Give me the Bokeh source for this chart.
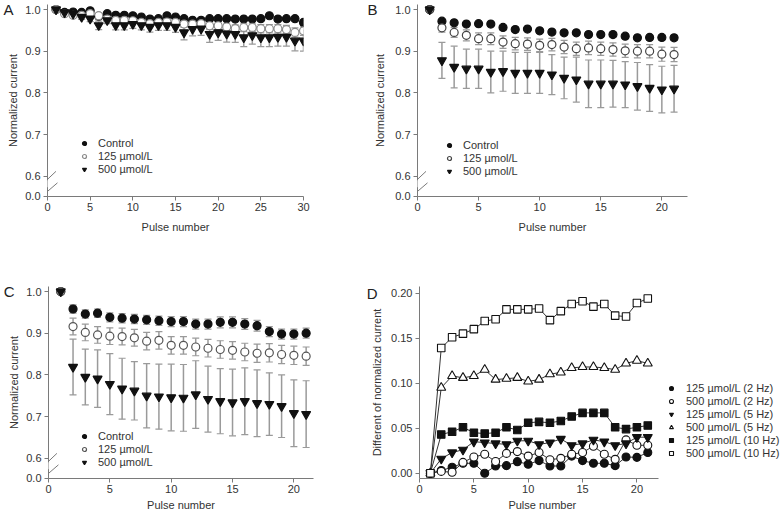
from bokeh.plotting import figure
from bokeh.layouts import column, row
from bokeh.models import (Range1d, FixedTicker, CustomJSTickFormatter, Whisker, TeeHead,
                          ColumnDataSource, Legend, LegendItem, Arrow, LinearAxis, Title)
from bokeh.embed import file_html
from bokeh.resources import INLINE

FONT = "Liberation Sans"
TXT = "#333333"
AXC = "#7a7a7a"
BAR = "#9a9a9a"

# ---------------- data ----------------
A_pulse = list(range(1, 31))
A_ctrl = [1.000, 0.993, 0.994, 0.993, 0.997, 0.984, 0.990, 0.986, 0.986, 0.985,
          0.982, 0.977, 0.978, 0.985, 0.982, 0.978, 0.974, 0.974, 0.978, 0.978,
          0.978, 0.977, 0.977, 0.977, 0.978, 0.985, 0.977, 0.978, 0.978, 0.969]
A_ctrl_sem = [0, .003, .003, .003, .003, .004, .004, .004, .004, .004,
              .004, .005, .005, .005, .005, .005, .005, .005, .005, .005,
              .005, .005, .005, .005, .005, .005, .005, .005, .005, .006]
A_125 = [1.000, 0.990, 0.986, 0.986, 0.990, 0.985, 0.977, 0.974, 0.974, 0.973,
         0.969, 0.966, 0.969, 0.970, 0.969, 0.965, 0.965, 0.966, 0.961, 0.961,
         0.958, 0.954, 0.957, 0.957, 0.954, 0.954, 0.954, 0.952, 0.945, 0.949]
A_125_sem = [0, .003, .004, .004, .004, .005, .005, .006, .006, .006,
             .006, .007, .007, .007, .007, .008, .008, .008, .009, .009,
             .009, .009, .010, .010, .010, .010, .010, .010, .011, .011]
A_500 = [1.000, 0.993, 0.990, 0.982, 0.978, 0.962, 0.974, 0.962, 0.962, 0.965,
         0.962, 0.958, 0.962, 0.962, 0.958, 0.945, 0.953, 0.954, 0.941, 0.945,
         0.942, 0.941, 0.933, 0.938, 0.933, 0.933, 0.934, 0.934, 0.925, 0.925]
A_500_sem = [0, .004, .005, .006, .007, .010, .008, .011, .011, .010,
             .011, .012, .012, .012, .013, .018, .016, .016, .020, .019,
             .020, .020, .022, .021, .022, .022, .022, .022, .024, .025]

B_pulse = list(range(1, 22))
B_ctrl = [1.000, 0.972, 0.968, 0.965, 0.966, 0.965, 0.957, 0.952, 0.953, 0.949, 0.946,
          0.944, 0.944, 0.940, 0.940, 0.940, 0.936, 0.932, 0.933, 0.933, 0.932]
B_ctrl_sem = [0, .004, .004, .004, .004, .004, .005, .005, .005, .005, .005,
              .005, .005, .005, .005, .005, .005, .006, .006, .006, .006]
B_125 = [1.000, 0.956, 0.945, 0.938, 0.930, 0.930, 0.922, 0.918, 0.917, 0.914, 0.916,
         0.910, 0.906, 0.908, 0.906, 0.904, 0.901, 0.900, 0.900, 0.893, 0.892]
B_125_sem = [0, .010, .012, .013, .014, .014, .015, .015, .015, .015, .015,
             .016, .016, .016, .016, .016, .016, .016, .016, .017, .017]
B_500 = [1.000, 0.878, 0.862, 0.858, 0.858, 0.850, 0.852, 0.848, 0.848, 0.848, 0.844,
         0.836, 0.832, 0.822, 0.822, 0.822, 0.820, 0.816, 0.812, 0.808, 0.810]
B_500_sem = [0, .043, .050, .047, .047, .050, .048, .049, .049, .049, .048,
             .050, .054, .057, .057, .056, .055, .057, .056, .056, .056]

C_pulse = list(range(1, 22))
C_ctrl = [1.000, 0.958, 0.946, 0.948, 0.938, 0.936, 0.934, 0.932, 0.930, 0.928, 0.928,
          0.922, 0.922, 0.926, 0.926, 0.922, 0.918, 0.904, 0.898, 0.898, 0.900]
C_ctrl_sem = [0, .010, .010, .010, .011, .011, .011, .011, .011, .012, .012,
              .012, .012, .013, .013, .013, .013, .012, .012, .012, .012]
C_125 = [1.000, 0.916, 0.902, 0.896, 0.893, 0.892, 0.889, 0.881, 0.883, 0.871, 0.871,
         0.867, 0.864, 0.861, 0.859, 0.855, 0.852, 0.853, 0.849, 0.847, 0.845]
C_125_sem = [0, .020, .020, .020, .020, .020, .020, .021, .021, .021, .021,
             .021, .021, .021, .021, .021, .022, .022, .022, .022, .022]
C_500 = [1.000, 0.819, 0.795, 0.791, 0.778, 0.767, 0.762, 0.750, 0.748, 0.746, 0.745,
         0.753, 0.742, 0.737, 0.734, 0.737, 0.732, 0.730, 0.725, 0.708, 0.706]
C_500_sem = [0, .067, .067, .069, .073, .073, .070, .077, .078, .080, .080,
             .081, .079, .078, .080, .080, .080, .075, .075, .080, .080]

NORM_LABELS = ["Control", "125 \u00b5mol/L", "500 \u00b5mol/L"]
NORM_TICKS = [0.6, 0.7, 0.8, 0.9, 1.0]

D_pulse = list(range(1, 22))
D_125_2Hz = [0, 0.003, 0.0066, 0.011, 0.011, 0.000, 0.008, 0.0084, 0.0128, 0.010, 0.014,
             0.008, 0.008, 0.019, 0.014, 0.011, 0.011, 0.0084, 0.018, 0.0176, 0.023]
D_500_2Hz = [0, 0.002, 0.001, 0.012, 0.018, 0.021, 0.013, 0.022, 0.024, 0.019, 0.023,
             0.015, 0.0165, 0.021, 0.023, 0.030, 0.021, 0.0154, 0.037, 0.031, 0.031]
D_125_5Hz = [0, 0.016, 0.023, 0.026, 0.035, 0.034, 0.033, 0.032, 0.036, 0.036, 0.032,
             0.034, 0.038, 0.031, 0.033, 0.037, 0.035, 0.031, 0.033, 0.040, 0.040]
D_500_5Hz = [0, 0.095, 0.108, 0.106, 0.108, 0.115, 0.104, 0.105, 0.106, 0.102, 0.104,
             0.110, 0.112, 0.117, 0.118, 0.118, 0.117, 0.115, 0.122, 0.125, 0.122]
D_125_10Hz = [0, 0.043, 0.046, 0.051, 0.045, 0.044, 0.045, 0.051, 0.048, 0.056, 0.057,
              0.056, 0.058, 0.063, 0.067, 0.067, 0.067, 0.051, 0.049, 0.051, 0.053]
D_500_10Hz = [0, 0.139, 0.151, 0.155, 0.160, 0.169, 0.171, 0.182, 0.182, 0.182, 0.183,
              0.170, 0.180, 0.188, 0.191, 0.185, 0.188, 0.175, 0.174, 0.189, 0.194]
D_labels = ["125 \u00b5mol/L (2 Hz)", "500 \u00b5mol/L (2 Hz)", "125 \u00b5mol/L (5 Hz)",
            "500 \u00b5mol/L (5 Hz)", "125 \u00b5mol/L (10 Hz)", "500 \u00b5mol/L (10 Hz)"]
D_ticks = [0.00, 0.05, 0.10, 0.15, 0.20]
X_TICKS = [0, 5, 10, 15, 20, 25, 30]

# ---------------- layout constants ----------------
PX_PER_UNIT = 417.5       # vertical scale of normalized panels
BREAK_GAP_PX = 20.0       # distance between "0.6" and "0.0" on broken axis
Y_TOP = 1.012
Y_ZERO_POS = 0.6 - BREAK_GAP_PX / PX_PER_UNIT


def style_axes(p, ylab_standoff, xlab_standoff):
    for ax in (p.xaxis[0], p.yaxis[0]):
        ax.axis_line_color = AXC
        ax.major_tick_line_color = AXC
        ax.minor_tick_line_color = None
        ax.major_tick_in = 0
        ax.major_tick_out = 4
        ax.major_label_text_font = FONT
        ax.major_label_text_font_size = "11px"
        ax.major_label_text_color = TXT
        ax.axis_label_text_font = FONT
        ax.axis_label_text_font_size = "11px"
        ax.axis_label_text_font_style = "normal"
        ax.axis_label_text_color = TXT
    p.xaxis[0].major_label_standoff = 2
    p.xaxis[0].axis_label_standoff = xlab_standoff
    p.yaxis[0].major_label_standoff = 3
    p.yaxis[0].axis_label_standoff = ylab_standoff
    p.xgrid.visible = False
    p.ygrid.visible = False
    p.outline_line_color = None


def add_letter(p, letter, at, standoff):
    ax = LinearAxis(ticker=FixedTicker(ticks=[at]),
                    formatter=CustomJSTickFormatter(code="return '%s';" % letter),
                    axis_line_color=None, major_tick_line_color=None,
                    minor_tick_line_color=None, major_tick_in=0, major_tick_out=0,
                    major_label_standoff=standoff,
                    major_label_text_font=FONT, major_label_text_font_size="15px",
                    major_label_text_color="#222222")
    p.add_layout(ax, "left")


def base_fig(width, height, left, top, bottom, right):
    return figure(width=width, height=height, output_backend="svg", toolbar_location=None,
                  min_border_left=left, min_border_top=top, min_border_bottom=bottom,
                  min_border_right=right)


def norm_panel(letter, pulse, series, x_end, width, height, left, top, bottom,
               frame_w, legend_loc, ylab_so, xlab_so, letter_so, open_color):
    p = base_fig(width, height, left, top, bottom, width - left - frame_w)
    p.x_range = Range1d(0, x_end)
    p.y_range = Range1d(Y_ZERO_POS - 0.0004, Y_TOP)
    style_axes(p, ylab_so, xlab_so)
    p.xaxis.axis_label = "Pulse number"
    p.yaxis.axis_label = "Normalized current"
    p.xaxis.ticker = FixedTicker(ticks=[t for t in X_TICKS if t <= x_end])
    p.yaxis.ticker = FixedTicker(ticks=[Y_ZERO_POS] + NORM_TICKS)
    p.yaxis.formatter = CustomJSTickFormatter(
        code="return tick < 0.59 ? '0.0' : tick.toFixed(1);")
    add_letter(p, letter, 1.0, letter_so)

    styles = [("circle", "#111111", "#111111", 8),
              ("circle", "white", open_color, 8),
              ("inverted_triangle", "#111111", "#111111", 9)]
    for (mean, sem) in series:
        src = ColumnDataSource(dict(x=pulse,
                                    lo=[m - s for m, s in zip(mean, sem)],
                                    hi=[m + s for m, s in zip(mean, sem)]))
        p.add_layout(Whisker(source=src, base="x", upper="hi", lower="lo",
                             line_color=BAR, line_width=1.5, level="underlay",
                             upper_head=TeeHead(size=7, line_color=BAR, line_width=1.2),
                             lower_head=TeeHead(size=7, line_color=BAR, line_width=1.2)))
    items = []
    for (mean, sem), label, (mk, fill, line, size) in zip(series, NORM_LABELS, styles):
        r = p.scatter(x=pulse, y=mean, marker=mk, size=size, fill_color=fill,
                      line_color=line, line_width=1.2)
        items.append(LegendItem(label=label, renderers=[r]))
    p.add_layout(Legend(items=items, location=legend_loc, padding=0, margin=0, spacing=1,
                        glyph_width=10, glyph_height=12, label_height=12, label_standoff=9,
                        label_text_font=FONT, label_text_font_size="11px",
                        label_text_color=TXT, background_fill_alpha=0,
                        border_line_color=None))

    # axis break marks (only the part inside the frame is visible)
    px_x = frame_w / x_end
    gap_lo = 0.6 - 11 / PX_PER_UNIT
    gap_hi = 0.6 - 4 / PX_PER_UNIT
    p.add_layout(Arrow(x_start=0, y_start=gap_lo, x_end=0, y_end=gap_hi, end=None,
                       line_color="white", line_width=3))
    c1 = 0.6 - 3 / PX_PER_UNIT
    p.add_layout(Arrow(x_start=-8.5 / px_x, y_start=c1 - 8 / PX_PER_UNIT,
                       x_end=8.5 / px_x, y_end=c1 + 8 / PX_PER_UNIT,
                       end=None, line_color=AXC, line_width=1))
    c2 = 0.6 - 12.5 / PX_PER_UNIT
    p.add_layout(Arrow(x_start=-4 / px_x, y_start=c2 - 6 / PX_PER_UNIT,
                       x_end=10 / px_x, y_end=c2 + 6 / PX_PER_UNIT,
                       end=None, line_color=AXC, line_width=1))
    return p


W1 = 363
W2 = 784 - W1
H1, H2 = 257, 256

pA = norm_panel("A", A_pulse, [(A_ctrl, A_ctrl_sem), (A_125, A_125_sem), (A_500, A_500_sem)],
                30, W1, H1, 46, 4, H1 - 4 - 192, 257, (32, 21), 3, 7, -9, "#8a8a8a")
pB = norm_panel("B", B_pulse, [(B_ctrl, B_ctrl_sem), (B_125, B_125_sem), (B_500, B_500_sem)],
                22.1, W2, H1, 54, 4, H1 - 4 - 192, 270, (27, 19), 6, 7, -6, "#444444")
pC = norm_panel("C", C_pulse, [(C_ctrl, C_ctrl_sem), (C_125, C_125_sem), (C_500, C_500_sem)],
                21.6, W1, H2, 46, 29, 35, 267, (31, 10), 3, 3, -9, "#555555")

# ---------------- panel D ----------------
D_left = 55
D_frame_w = W2 - D_left          # frame reaches the right edge; the legend sits in it
D_px_per_pulse = 10.9
D_x_axis_end = 22
pD = base_fig(W2, H2, D_left, 29, 35, 0)
pD.x_range = Range1d(0, D_frame_w / D_px_per_pulse)
pD.y_range = Range1d(-0.0059, 0.2074)
style_axes(pD, 5, 3)
pD.xaxis.bounds = (0, D_x_axis_end)
pD.yaxis.axis_label = "Different of normalized current"
pD.xaxis.ticker = FixedTicker(ticks=[t for t in X_TICKS if t <= D_x_axis_end])
pD.yaxis.ticker = FixedTicker(ticks=D_ticks)
pD.yaxis.formatter = CustomJSTickFormatter(code="return tick.toFixed(2);")
add_letter(pD, "D", 0.20, -9)
# x-axis title placed under the 0-22 part of the axis
pD.add_layout(Title(text="Pulse number", align="left",
                    offset=D_x_axis_end * D_px_per_pulse / 2.0 - 31,
                    standoff=2, text_font=FONT, text_font_size="11px",
                    text_font_style="normal", text_color=TXT), "below")

D_series = [D_125_2Hz, D_500_2Hz, D_125_5Hz, D_500_5Hz, D_125_10Hz, D_500_10Hz]
D_styles = [("circle", "#111111", 8), ("circle", "white", 8),
            ("inverted_triangle", "#111111", 9), ("triangle", "white", 9),
            ("square", "#111111", 7.5), ("square", "white", 7.5)]
for ys in D_series:
    pD.line(x=D_pulse, y=ys, line_color="#333333", line_width=1)
d_items = []
for ys, lab, (mk, fill, size) in zip(D_series, D_labels, D_styles):
    r = pD.scatter(x=D_pulse, y=ys, marker=mk, size=size, fill_color=fill,
                   line_color="#111111", line_width=1.1)
    d_items.append(LegendItem(label=lab, renderers=[r]))
legD = Legend(items=d_items, location=(int(D_x_axis_end * D_px_per_pulse) + 8, 19),
              padding=0, margin=0, spacing=1,
              glyph_width=10, glyph_height=12, label_height=12, label_standoff=10,
              label_text_font=FONT, label_text_font_size="11px", label_text_color=TXT,
              background_fill_alpha=0, border_line_color=None)
pD.add_layout(legD)

layout = column(row(pA, pB), row(pC, pD))
open("out.html", "w").write(file_html(layout, INLINE))
